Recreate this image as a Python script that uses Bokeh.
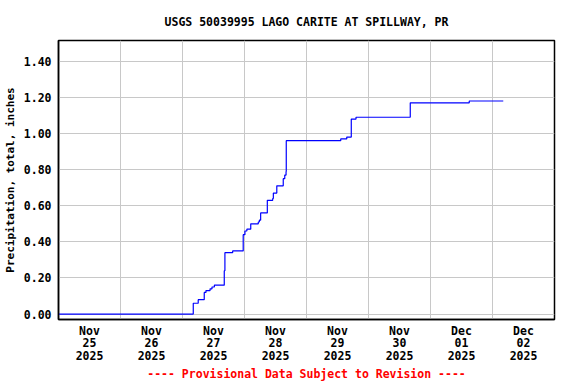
import pandas as pd
from bokeh.plotting import figure
from bokeh.models import FixedTicker, Range1d, NumeralTickFormatter
from bokeh.embed import file_html
from bokeh.resources import INLINE

title_text = "USGS 50039995 LAGO CARITE AT SPILLWAY, PR"
y_label = "Precipitation, total, inches"
footer = "---- Provisional Data Subject to Revision ----"

times = [
    "2025-11-25 00:00", "2025-11-27 04:10", "2025-11-27 06:05", "2025-11-27 08:25",
    "2025-11-27 09:05", "2025-11-27 10:40", "2025-11-27 11:25", "2025-11-27 12:20",
    "2025-11-27 16:10", "2025-11-27 16:25", "2025-11-27 19:25", "2025-11-27 23:30",
    "2025-11-28 00:10", "2025-11-28 00:55", "2025-11-28 02:25", "2025-11-28 05:20",
    "2025-11-28 05:45", "2025-11-28 06:15", "2025-11-28 08:50", "2025-11-28 10:55",
    "2025-11-28 11:10", "2025-11-28 12:30", "2025-11-28 15:00", "2025-11-28 15:35",
    "2025-11-28 16:05", "2025-11-28 16:10", "2025-11-29 13:15", "2025-11-29 15:35",
    "2025-11-29 17:20", "2025-11-29 19:10", "2025-11-30 16:10", "2025-12-01 15:00",
    "2025-12-02 04:10",
]
precip = [
    0.00, 0.06, 0.08, 0.12,
    0.13, 0.14, 0.15, 0.16,
    0.24, 0.34, 0.35, 0.44,
    0.46, 0.47, 0.50, 0.51,
    0.52, 0.56, 0.63, 0.64,
    0.67, 0.71, 0.75, 0.77,
    0.79, 0.96, 0.97, 0.98,
    1.08, 1.09, 1.17, 1.18,
    1.18,
]

day_dates = ["2025-11-25", "2025-11-26", "2025-11-27", "2025-11-28",
             "2025-11-29", "2025-11-30", "2025-12-01", "2025-12-02"]
day_labels = ["Nov\n25\n2025", "Nov\n26\n2025", "Nov\n27\n2025", "Nov\n28\n2025",
              "Nov\n29\n2025", "Nov\n30\n2025", "Dec\n01\n2025", "Dec\n02\n2025"]
y_ticks = [0.0, 0.2, 0.4, 0.6, 0.8, 1.0, 1.2, 1.4]


def ms(ts):
    return int(pd.Timestamp(ts).value // 10**6)


x = pd.to_datetime(times)
label_ticks = [ms(pd.Timestamp(d) + pd.Timedelta(hours=12)) for d in day_dates]
grid_ticks = [ms(d) for d in day_dates] + [ms("2025-12-03")]

FONT = "DejaVu Sans Mono"

p = figure(
    x_axis_type="datetime",
    frame_width=496, frame_height=279,
    min_border_left=50, min_border_right=14, min_border_top=31, min_border_bottom=2,
    output_backend="svg", toolbar_location=None,
    x_range=Range1d(grid_ticks[0], grid_ticks[-1]),
    y_range=Range1d(-0.03, 1.515),
    background_fill_color="white", border_fill_color="white",
)

p.title.text = title_text
p.title.align = "center"
p.title.text_font = FONT
p.title.text_font_size = "11.5px"
p.title.text_font_style = "bold"
p.title.text_color = "black"
p.title.offset = 0
p.title.standoff = 24

p.step(x, precip, mode="after", line_color="#0000ff", line_width=1.2)

p.outline_line_color = "black"
p.outline_line_width = 1.5

# x axis
xa = p.xaxis[0]
xa.ticker = FixedTicker(ticks=label_ticks)
xa.major_label_overrides = {t: l for t, l in zip(label_ticks, day_labels)}
xa.major_tick_out = 0
xa.major_tick_in = 0
xa.minor_tick_out = 0
xa.minor_tick_in = 0
xa.axis_line_color = "black"
xa.axis_line_width = 1.5
xa.major_label_text_font = FONT
xa.major_label_text_font_size = "11.5px"
xa.major_label_text_font_style = "bold"
xa.major_label_text_color = "black"
xa.major_label_text_line_height = 0.9
xa.major_label_standoff = 4
xa.axis_label = footer
xa.axis_label_text_font = FONT
xa.axis_label_text_font_size = "11.5px"
xa.axis_label_text_font_style = "bold"
xa.axis_label_text_color = "red"
xa.axis_label_standoff = 1

# y axis
ya = p.yaxis[0]
ya.ticker = FixedTicker(ticks=y_ticks)
ya.formatter = NumeralTickFormatter(format="0.00")
ya.major_tick_out = 0
ya.major_tick_in = 0
ya.minor_tick_out = 0
ya.minor_tick_in = 0
ya.axis_line_color = "black"
ya.axis_line_width = 1.5
ya.major_label_text_font = FONT
ya.major_label_text_font_size = "11.5px"
ya.major_label_text_font_style = "bold"
ya.major_label_text_color = "black"
ya.major_label_standoff = 7
ya.axis_label = y_label
ya.axis_label_text_font = FONT
ya.axis_label_text_font_size = "11px"
ya.axis_label_text_font_style = "bold"
ya.axis_label_text_color = "black"
ya.axis_label_standoff = 4

p.xgrid.ticker = FixedTicker(ticks=grid_ticks)
p.ygrid.ticker = FixedTicker(ticks=y_ticks)
p.xgrid.grid_line_color = "#c8c8c8"
p.ygrid.grid_line_color = "#c8c8c8"
p.xgrid.grid_line_width = 1
p.ygrid.grid_line_width = 1

open("out.html", "w").write(file_html(p, INLINE))
